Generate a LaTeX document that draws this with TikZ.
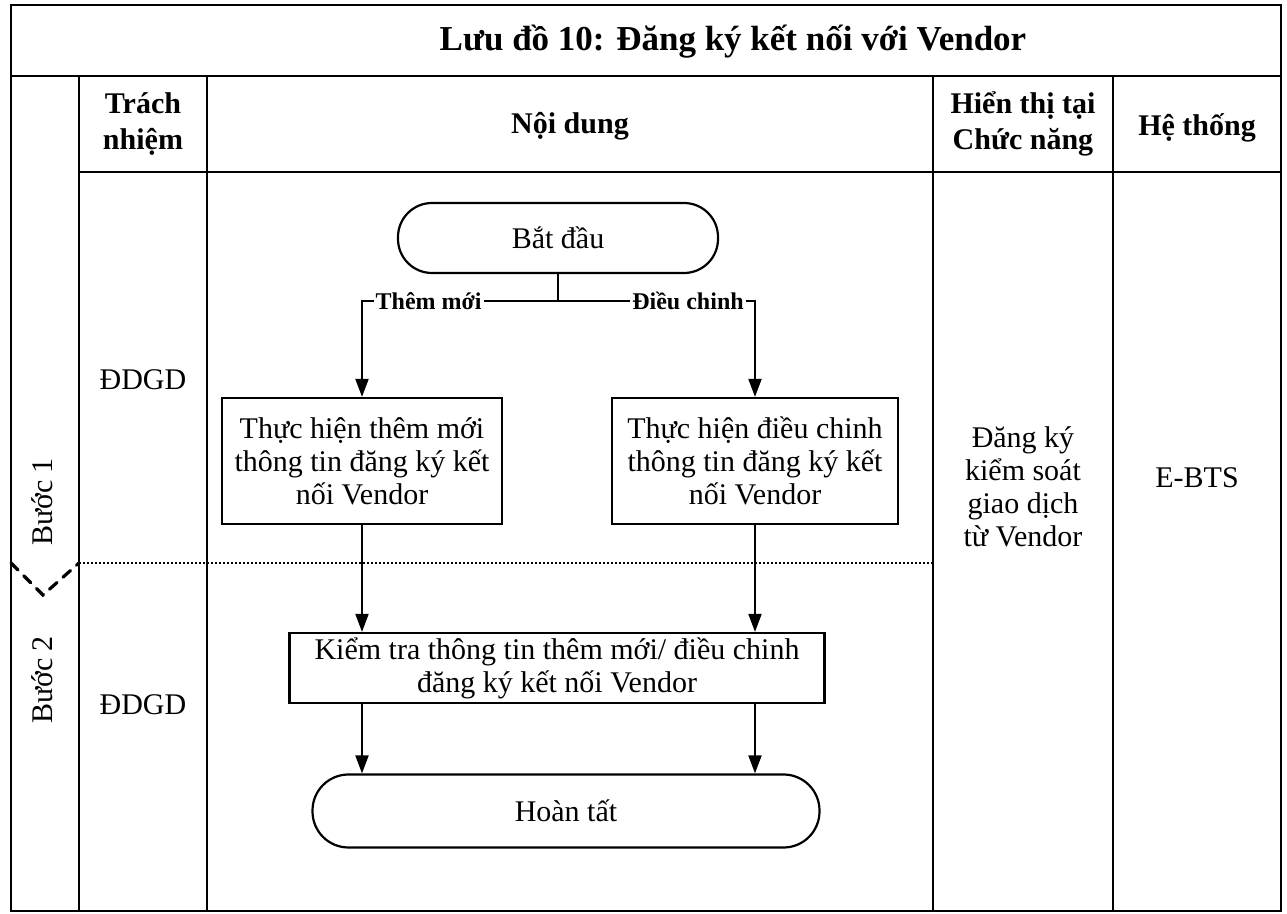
\documentclass[tikz,border=0pt]{standalone}
\usepackage{fontspec}
\setmainfont{Liberation Serif}
\usetikzlibrary{arrows.meta,calc}

\begin{document}
\begin{tikzpicture}[x=0.5pt,y=-0.5pt,
  frameline/.style={line width=1.4pt},
  gridline/.style={line width=1pt},
  body/.style={font=\fontsize{15}{16.5}\selectfont, align=center, inner sep=0pt},
  head/.style={font=\bfseries\fontsize{15}{18}\selectfont, align=center, inner sep=0pt},
  proc/.style={draw, line width=1.1pt, body, fill=white},
  term/.style={draw, line width=1.1pt, body, fill=white},
  branchlbl/.style={font=\bfseries\fontsize{12}{14}\selectfont, fill=white, inner sep=1pt},
  flow/.style={line width=1pt, -{Triangle[length=9pt,width=6.5pt]}},
  plain/.style={line width=1pt}
]
\useasboundingbox (0,0) rectangle (1287,914);

% table frame and grid
\draw[frameline] (11,5) rectangle (1281,911);
\draw[frameline] (11,76) -- (1281,76);
\draw[gridline] (79,172) -- (1281,172);
\draw[gridline] (79,76) -- (79,911);
\draw[gridline] (207,76) -- (207,911);
\draw[gridline] (933,76) -- (933,911);
\draw[gridline] (1113,76) -- (1113,911);

% step separator
\draw[line width=1.2pt, dash pattern=on 1pt off 1pt] (79,563) -- (933,563);
\draw[line width=1.6pt, dash pattern=on 5pt off 4pt, line cap=round] (11,563) -- (43,595) -- (79,563);

% title and headers
\node[font=\bfseries\fontsize{17.5}{20}\selectfont, inner sep=0pt] (title) at (733,42) {Lưu đồ 10: Đăng ký kết nối với Vendor};
\node[head] (hresp) at (143,124) {Trách\\nhiệm};
\node[head] (hcontent) at (570,126) {Nội dung};
\node[head] (hview) at (1023,124) {Hiển thị tại\\Chức năng};
\node[head] (hsys) at (1197,128) {Hệ thống};

% step labels and owners
\node[body, rotate=90] (step1) at (42,502) {Bước 1};
\node[body, rotate=90] (step2) at (42,680) {Bước 2};
\node[body] (own1) at (143,380) {ĐDGD};
\node[body] (own2) at (143,705) {ĐDGD};

% right columns
\node[body] (func) at (1023,487) {Đăng ký\\kiểm soát\\giao dịch\\từ Vendor};
\node[body] (sys) at (1197,478) {E-BTS};

% flowchart
\node[term, rounded corners=17pt, minimum width=160pt, minimum height=35pt] (start) at (558,238) {Bắt đầu};
\node[proc, minimum width=140pt, minimum height=63pt] (add) at (362,461) {Thực hiện thêm mới\\thông tin đăng ký kết\\nối Vendor};
\node[proc, minimum width=143pt, minimum height=63pt] (edit) at (755,461) {Thực hiện điều chinh\\thông tin đăng ký kết\\nối Vendor};
\node[proc, minimum width=267.5pt, minimum height=35pt] (check) at (557,668) {Kiểm tra thông tin thêm mới/ điều chinh\\đăng ký kết nối Vendor};
\node[term, rounded corners=18pt, minimum width=253.5pt, minimum height=36.5pt] (finish) at (566,811) {Hoàn tất};

\coordinate (split) at (558,301);
\draw[plain] (start.south) -- (split);
\draw[flow] (split) -| node[branchlbl, pos=0.33] {Thêm mới} (add.north);
\draw[flow] (split) -| node[branchlbl, pos=0.33] {Điều chinh} (edit.north);

\draw[flow] (add.south) -- (add.south |- check.north);
\draw[flow] (edit.south) -- (edit.south |- check.north);
\draw[flow] (add.south |- check.south) -- (add.south |- finish.north);
\draw[flow] (edit.south |- check.south) -- (edit.south |- finish.north);
\end{tikzpicture}
\end{document}
